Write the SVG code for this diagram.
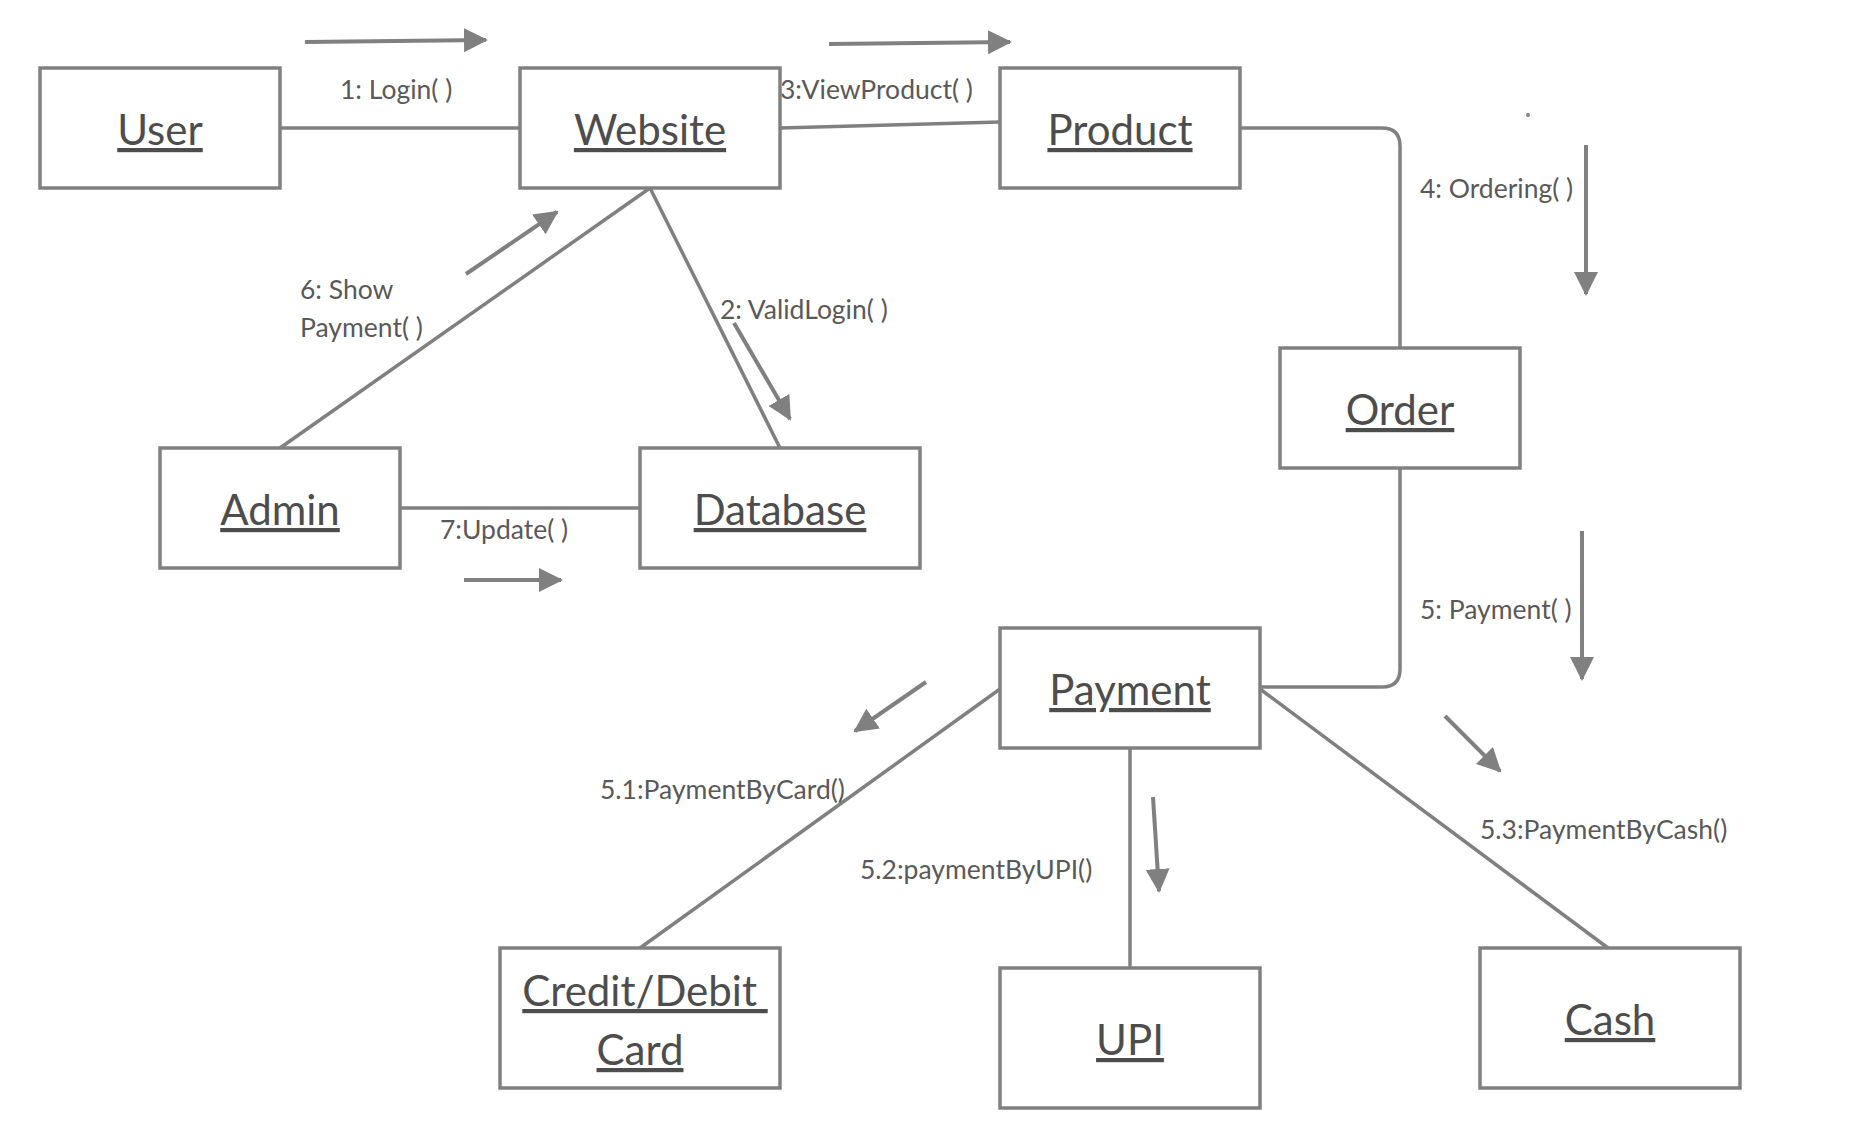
<svg xmlns="http://www.w3.org/2000/svg" width="1860" height="1148" viewBox="0 0 1860 1148">
<style>
.box{fill:#fff;stroke:#808080;stroke-width:3.5}
.nt{font-family:Lato,"Liberation Sans",sans-serif;font-size:42px;fill:#4d4d4d;text-anchor:middle;text-decoration:underline}
.lb{font-family:Lato,"Liberation Sans",sans-serif;font-size:26.5px;fill:#595959}
.cn{fill:none;stroke:#808080;stroke-width:3.5}
.msg{fill:none;stroke:#808080;stroke-width:4;marker-end:url(#ah)}
</style>
<defs>
<marker id="ah" markerUnits="userSpaceOnUse" markerWidth="24" markerHeight="26" refX="22" refY="12" orient="auto" viewBox="0 0 24 26">
<path d="M0,0 L24,12 L0,24 Z" fill="#808080"/>
</marker>
</defs>
<rect width="1860" height="1148" fill="#fff"/>
<g id="connectors">
<line class="cn" x1="280" y1="128" x2="520" y2="128"/>
<line class="cn" x1="780" y1="128" x2="1000" y2="122"/>
<path class="cn" d="M1240,128 H1382 Q1400,128 1400,146 V348"/>
<path class="cn" d="M1400,468 V669 Q1400,687 1382,687 H1260"/>
<line class="cn" x1="650" y1="188" x2="280" y2="448"/>
<line class="cn" x1="650" y1="188" x2="780" y2="448"/>
<line class="cn" x1="400" y1="508" x2="640" y2="508"/>
<line class="cn" x1="1000" y1="689" x2="640" y2="948"/>
<line class="cn" x1="1130" y1="748" x2="1130" y2="968"/>
<line class="cn" x1="1260" y1="689" x2="1608" y2="948"/>
<line class="msg" x1="305" y1="42" x2="486" y2="40"/>
<line class="msg" x1="829" y1="44" x2="1010" y2="42"/>
<line class="msg" x1="1586" y1="145" x2="1586" y2="294"/>
<line class="msg" x1="466" y1="274" x2="557" y2="212"/>
<line class="msg" x1="734" y1="323" x2="790" y2="419"/>
<line class="msg" x1="464" y1="580" x2="561" y2="580"/>
<line class="msg" x1="1582" y1="531" x2="1582" y2="679"/>
<line class="msg" x1="926" y1="682" x2="855" y2="731"/>
<line class="msg" x1="1153" y1="797" x2="1159" y2="891"/>
<line class="msg" x1="1445" y1="716" x2="1500" y2="771"/>
</g>
<circle cx="1528" cy="115" r="2" fill="#808080"/>
<g id="labels">
<text class="lb" x="340" y="98.5">1: Login( )</text>
<text class="lb" x="780" y="98.5">3:ViewProduct( )</text>
<text class="lb" x="1420" y="197.5">4: Ordering( )</text>
<text class="lb" x="300" y="298.5">6: Show</text>
<text class="lb" x="300" y="336.5">Payment( )</text>
<text class="lb" x="720" y="318.5">2: ValidLogin( )</text>
<text class="lb" x="440" y="538.5">7:Update( )</text>
<text class="lb" x="1420" y="618.5">5: Payment( )</text>
<text class="lb" x="600" y="798.5">5.1:PaymentByCard()</text>
<text class="lb" x="860" y="878.5">5.2:paymentByUPI()</text>
<text class="lb" x="1480" y="838.5">5.3:PaymentByCash()</text>
</g>
<g id="user"><rect class="box" x="40" y="68" width="240" height="120"/><text class="nt" x="160" y="145">User</text></g>
<g id="website"><rect class="box" x="520" y="68" width="260" height="120"/><text class="nt" x="650" y="145">Website</text></g>
<g id="product"><rect class="box" x="1000" y="68" width="240" height="120"/><text class="nt" x="1120" y="145">Product</text></g>
<g id="order"><rect class="box" x="1280" y="348" width="240" height="120"/><text class="nt" x="1400" y="425">Order</text></g>
<g id="admin"><rect class="box" x="160" y="448" width="240" height="120"/><text class="nt" x="280" y="525">Admin</text></g>
<g id="database"><rect class="box" x="640" y="448" width="280" height="120"/><text class="nt" x="780" y="525">Database</text></g>
<g id="payment"><rect class="box" x="1000" y="628" width="260" height="120"/><text class="nt" x="1130" y="705">Payment</text></g>
<g id="card"><rect class="box" x="500" y="948" width="280" height="140"/><text class="nt" x="645" y="1006" xml:space="preserve">Credit/Debit </text><text class="nt" x="640" y="1065">Card</text></g>
<g id="upi"><rect class="box" x="1000" y="968" width="260" height="140"/><text class="nt" x="1130" y="1055">UPI</text></g>
<g id="cash"><rect class="box" x="1480" y="948" width="260" height="140"/><text class="nt" x="1610" y="1035">Cash</text></g>
</svg>
